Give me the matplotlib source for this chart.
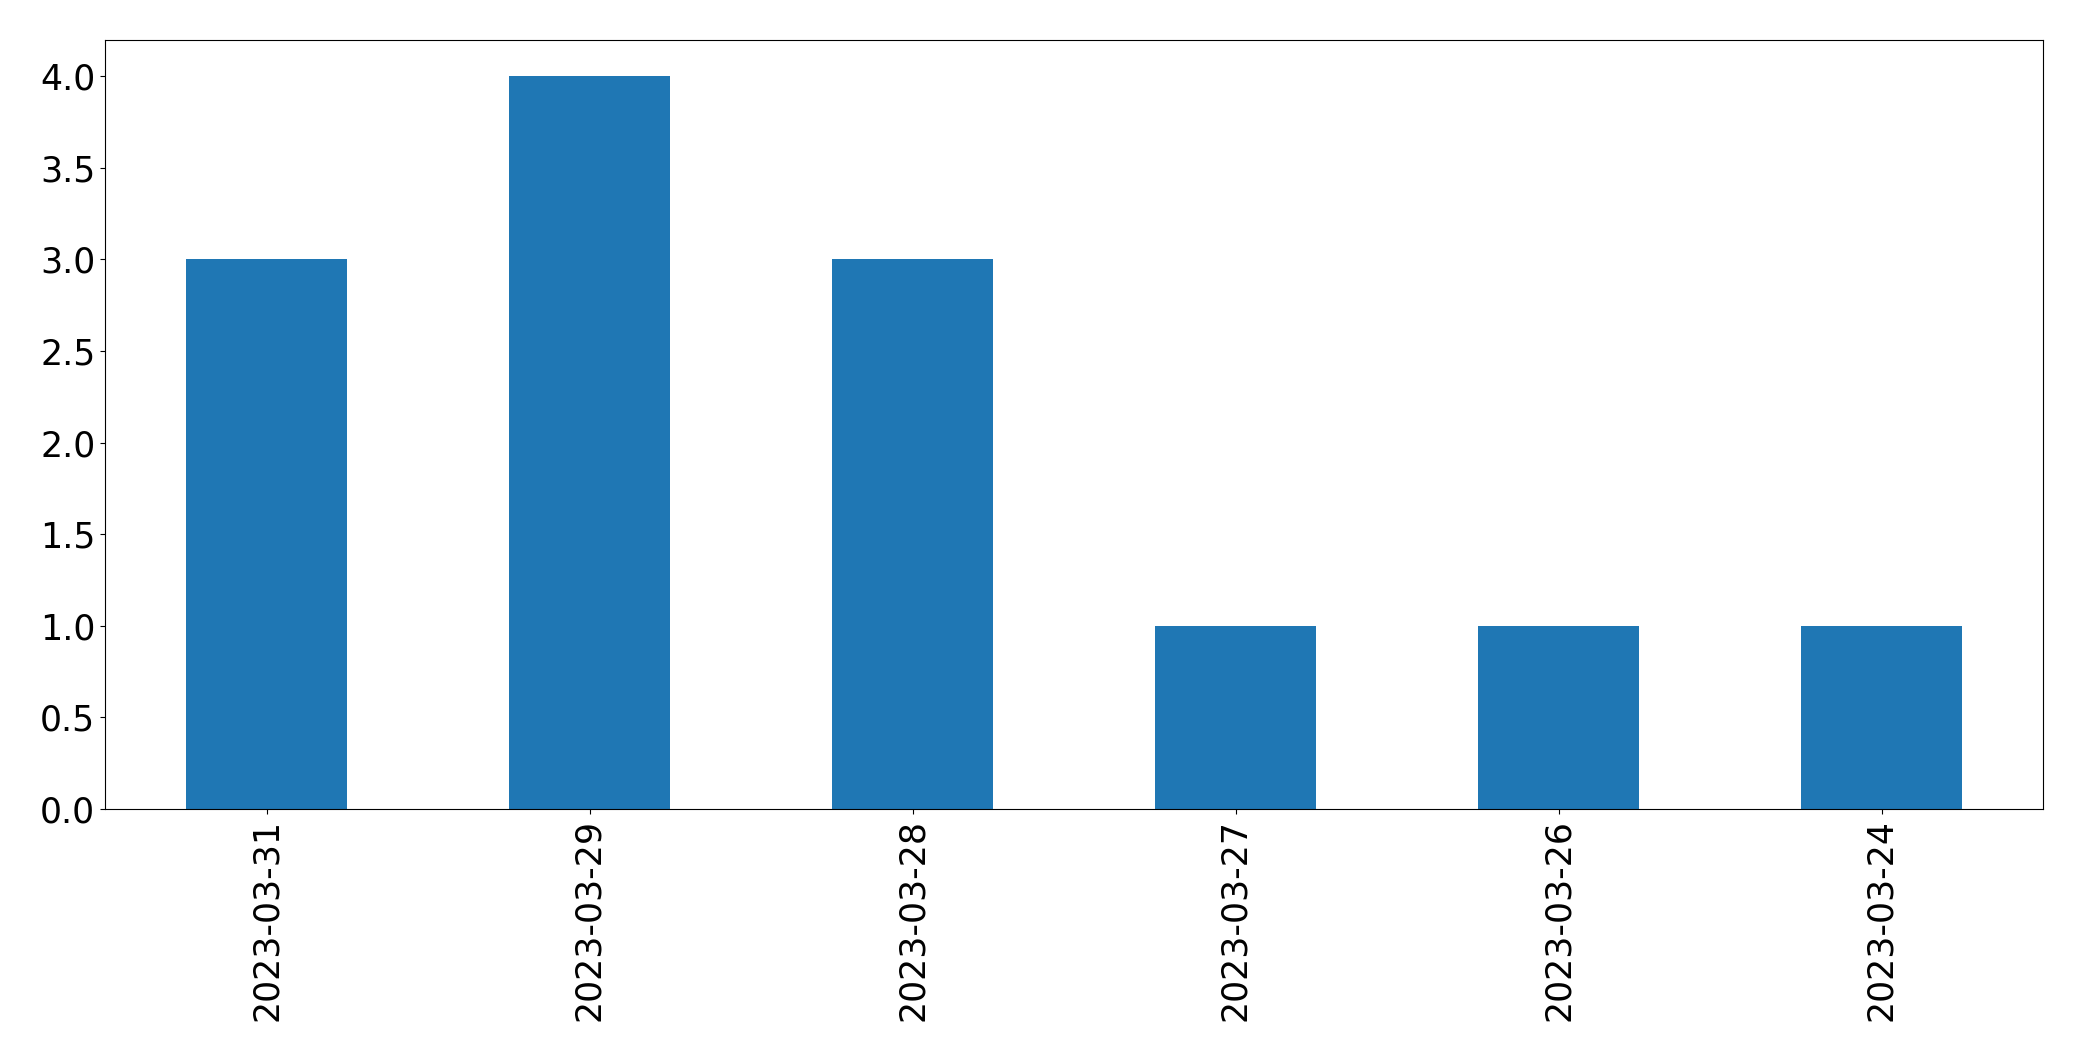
import matplotlib
matplotlib.use("Agg")
import matplotlib.pyplot as plt
import numpy as np

# Counts per date, in the order they appear on the chart
dates = ["2023-03-31", "2023-03-29", "2023-03-28", "2023-03-27", "2023-03-26", "2023-03-24"]
counts = [3, 4, 3, 1, 1, 1]

fig = plt.figure(figsize=(20.82, 10.61), dpi=100)
ax = fig.add_axes([105 / 2082, 1 - 809 / 1061, (2043 - 105) / 2082, (809 - 39.5) / 1061])

x = np.arange(len(dates))
ax.bar(x, counts, width=0.5, color="#1f77b4")
ax.set_xlim(-0.5, len(dates) - 0.5)
ax.set_ylim(0, 4.2)
ax.set_yticks(np.arange(0, 4.01, 0.5))

ax.set_xticks(x)
ax.set_xticklabels(dates, rotation=90)
ax.tick_params(labelsize=25)

fig.savefig("out.png", dpi=100)
